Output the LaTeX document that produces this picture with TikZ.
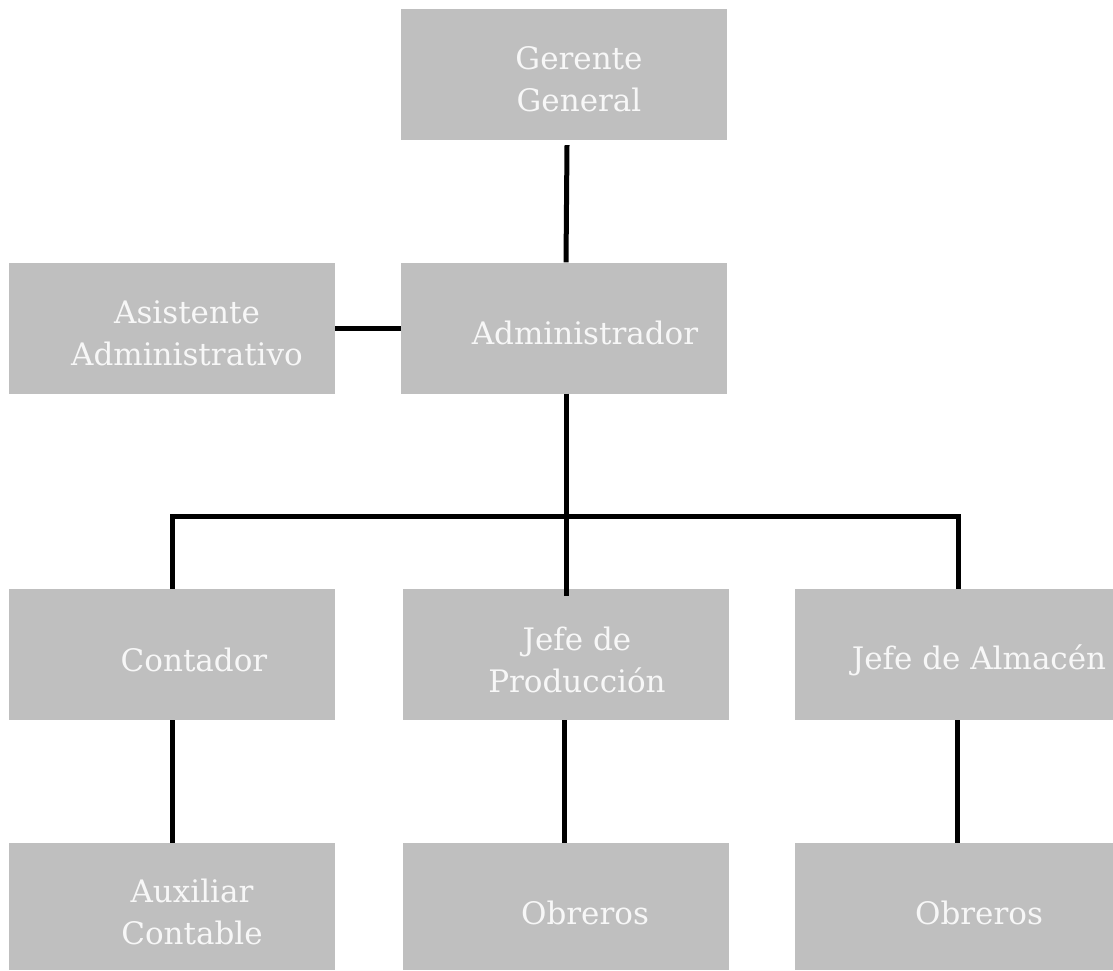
\documentclass[tikz,border=0pt]{standalone}
\usepackage{fontspec}
\setmainfont{DejaVu Serif}
\definecolor{boxgray}{HTML}{BFBFBF}
\definecolor{txtwhite}{HTML}{F7F7F7}
\begin{document}
\begin{tikzpicture}[x=1pt,y=-1pt,
  box/.style={fill=boxgray,draw=none,inner sep=0pt,minimum width=326pt,minimum height=131pt},
  lbl/.style={text=txtwhite,align=center,inner sep=0pt,font=\fontsize{31}{42}\selectfont},
  link/.style={line width=5pt,black}]
\useasboundingbox (0,0) rectangle (1113,970);
% boxes
\node[box] (gg)  at (564,74.5) {};
\node[box] (aa)  at (172,328) {};
\node[box] (adm) at (564,328) {};
\node[box] (con) at (172,654.5) {};
\node[box] (jp)  at (565.5,654.5) {};
\node[box,minimum width=318pt] (ja) at (954,654.5) {};
\node[box,minimum height=127pt] (aux) at (172,906.5) {};
\node[box,minimum height=127pt] (ob1) at (565.5,906.5) {};
\node[box,minimum width=318pt,minimum height=127pt] (ob2) at (954,906.5) {};
% labels
\node[lbl] (tgg)  at (579,79)  {Gerente\\General};
\node[lbl] (taa)  at (187,333) {Asistente\\Administrativo};
\node[lbl] (tadm) at (585,333) {Administrador};
\node[lbl] (tcon) at (194,660) {Contador};
\node[lbl] (tjp)  at (577,660) {Jefe de\\Producción};
\node[lbl] (tja)  at (979,660) {Jefe de Almacén};
\node[lbl] (taux) at (192,912) {Auxiliar\\Contable};
\node[lbl] (tob1) at (585,913) {Obreros};
\node[lbl] (tob2) at (979,913) {Obreros};
% connectors
\coordinate (bar) at (566,516);
\coordinate (barL) at (172,516);
\coordinate (barR) at (958,516);
\coordinate (jaTop) at (958,589);
\draw[link] ([xshift=3pt,yshift=-5pt]gg.south) -- ([xshift=2pt]adm.north);
\draw[link] (aa.east) -- (adm.west);
\draw[link] ([xshift=2pt]adm.south) -- (bar);
\draw[link,line join=miter] (con.north) -- (barL) -- (barR) -- (jaTop);
\draw[link] (bar) -- ([yshift=-7pt]jp.north -| bar);
\draw[link] (con.south) -- (aux.north);
\draw[link] ([xshift=-1.5pt]jp.south) -- ([xshift=-1.5pt]ob1.north);
\draw[link] ([xshift=3pt]ja.south) -- ([xshift=3pt]ob2.north);
\end{tikzpicture}
\end{document}
